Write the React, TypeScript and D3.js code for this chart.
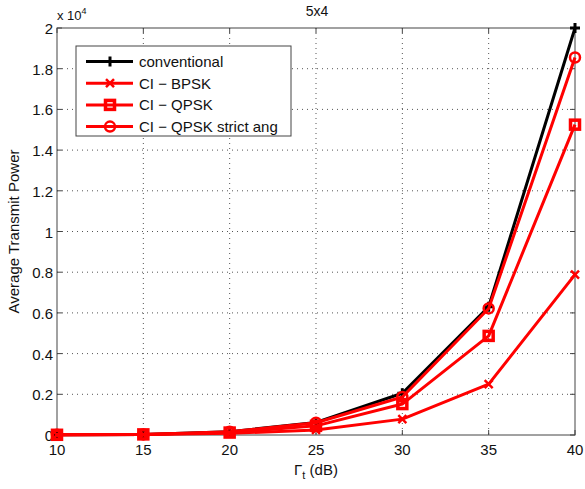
import React from "react";
import * as d3 from "d3";

const snr = [10, 15, 20, 25, 30, 35, 40];
const conventional = [0.001, 0.003, 0.016, 0.062, 0.205, 0.63, 2.0];
const ciBpsk = [0.001, 0.002, 0.008, 0.025, 0.078, 0.25, 0.788];
const ciQpsk = [0.001, 0.003, 0.012, 0.045, 0.152, 0.487, 1.525];
const ciQpskStrict = [0.001, 0.003, 0.016, 0.06, 0.187, 0.622, 1.855];
const xTicks = [10, 15, 20, 25, 30, 35, 40];
const yTicks = [0, 0.2, 0.4, 0.6, 0.8, 1, 1.2, 1.4, 1.6, 1.8, 2];
const seriesNames = ["conventional", "CI \u2212 BPSK", "CI \u2212 QPSK", "CI \u2212 QPSK strict ang"];
const seriesColors = ["#000000", "#ff0000", "#ff0000", "#ff0000"];
const seriesMarkers = ["plus", "x", "square", "circle"];

const L = 57, R = 575, T = 28, B = 435;
const font = "'Liberation Sans', Arial, sans-serif";

function Marker({ type, x, y, color }: { type: string; x: number; y: number; color: string }) {
  if (type === "plus") {
    return <path d={`M${x - 5},${y}H${x + 5}M${x},${y - 5}V${y + 5}`} stroke={color} strokeWidth={3} />;
  }
  if (type === "x") {
    return <path d={`M${x - 4},${y - 4}L${x + 4},${y + 4}M${x - 4},${y + 4}L${x + 4},${y - 4}`} stroke={color} strokeWidth={2.5} />;
  }
  if (type === "square") {
    return <rect x={x - 4.5} y={y - 4.5} width={9} height={9} fill="none" stroke={color} strokeWidth={3.5} />;
  }
  return <circle cx={x} cy={y} r={5} fill="none" stroke={color} strokeWidth={2.5} />;
}

export default function App() {
  const x = d3.scaleLinear().domain([10, 40]).range([L, R]);
  const y = d3.scaleLinear().domain([0, 2]).range([B, T]);
  const data = [conventional, ciBpsk, ciQpsk, ciQpskStrict];
  const line = d3.line<number>().x((_, i) => x(snr[i])).y((d) => y(d));
  const drawOrder = [0, 1, 2, 3];

  return (
    <svg width={585} height={489} style={{ position: "absolute", left: 0, top: 0, background: "#fff" }}>
      <rect x={0} y={0} width={585} height={489} fill="#fff" />
      {/* grid */}
      {xTicks.slice(1, -1).map((t) => (
        <line key={"gx" + t} x1={x(t)} x2={x(t)} y1={T} y2={B} stroke="#555" strokeWidth={1} strokeDasharray="1,4" />
      ))}
      {yTicks.slice(1, -1).map((t) => (
        <line key={"gy" + t} x1={L} x2={R} y1={y(t)} y2={y(t)} stroke="#555" strokeWidth={1} strokeDasharray="1,4" />
      ))}
      {/* axes box */}
      <rect x={L} y={T} width={R - L} height={B - T} fill="none" stroke="#444" strokeWidth={1} />
      {/* ticks */}
      {xTicks.map((t) => (
        <g key={"xt" + t}>
          <line x1={x(t)} x2={x(t)} y1={B} y2={B - 5} stroke="#444" />
          <line x1={x(t)} x2={x(t)} y1={T} y2={T + 5} stroke="#444" />
          <text x={x(t)} y={B + 20} textAnchor="middle" fontFamily={font} fontSize={15} fill="#111">{t}</text>
        </g>
      ))}
      {yTicks.map((t) => (
        <g key={"yt" + t}>
          <line x1={L} x2={L + 5} y1={y(t)} y2={y(t)} stroke="#444" />
          <line x1={R} x2={R - 5} y1={y(t)} y2={y(t)} stroke="#444" />
          <text x={L - 4} y={y(t) + 6} textAnchor="end" fontFamily={font} fontSize={15} fill="#111">{d3.format("~g")(t)}</text>
        </g>
      ))}
      <text x={57} y={20} fontFamily={font} fontSize={13} fill="#111">x 10<tspan dy={-6} fontSize={9}>4</tspan></text>
      <text x={317} y={16} textAnchor="middle" fontFamily={font} fontSize={14} fill="#111">5x4</text>
      <text transform={`translate(19,${(T + B) / 2}) rotate(-90)`} textAnchor="middle" fontFamily={font} fontSize={15} fill="#111">Average Transmit Power</text>
      <text x={316} y={475} textAnchor="middle" fontFamily={font} fontSize={15} fill="#111">
        {"\u0393"}<tspan dy={4} fontSize={11}>t</tspan><tspan dy={-4}> (dB)</tspan>
      </text>
      {/* series */}
      {drawOrder.map((si) => (
        <g key={"s" + si}>
          <path d={line(data[si]) || ""} fill="none" stroke={seriesColors[si]} strokeWidth={3} strokeLinejoin="round" />
          {data[si].map((v, i) => (
            <Marker key={i} type={seriesMarkers[si]} x={x(snr[i])} y={y(v)} color={seriesColors[si]} />
          ))}
        </g>
      ))}
      {/* legend */}
      <rect x={76} y={46} width={215} height={90} fill="#fff" stroke="#444" strokeWidth={1} />
      {seriesNames.map((n, i) => {
        const ly = 61.5 + i * 21.7;
        return (
          <g key={"lg" + i}>
            <line x1={86} x2={133} y1={ly} y2={ly} stroke={seriesColors[i]} strokeWidth={3} />
            <Marker type={seriesMarkers[i]} x={110} y={ly} color={seriesColors[i]} />
            <text x={139} y={ly + 5.5} fontFamily={font} fontSize={15} fill="#111">{n}</text>
          </g>
        );
      })}
    </svg>
  );
}
